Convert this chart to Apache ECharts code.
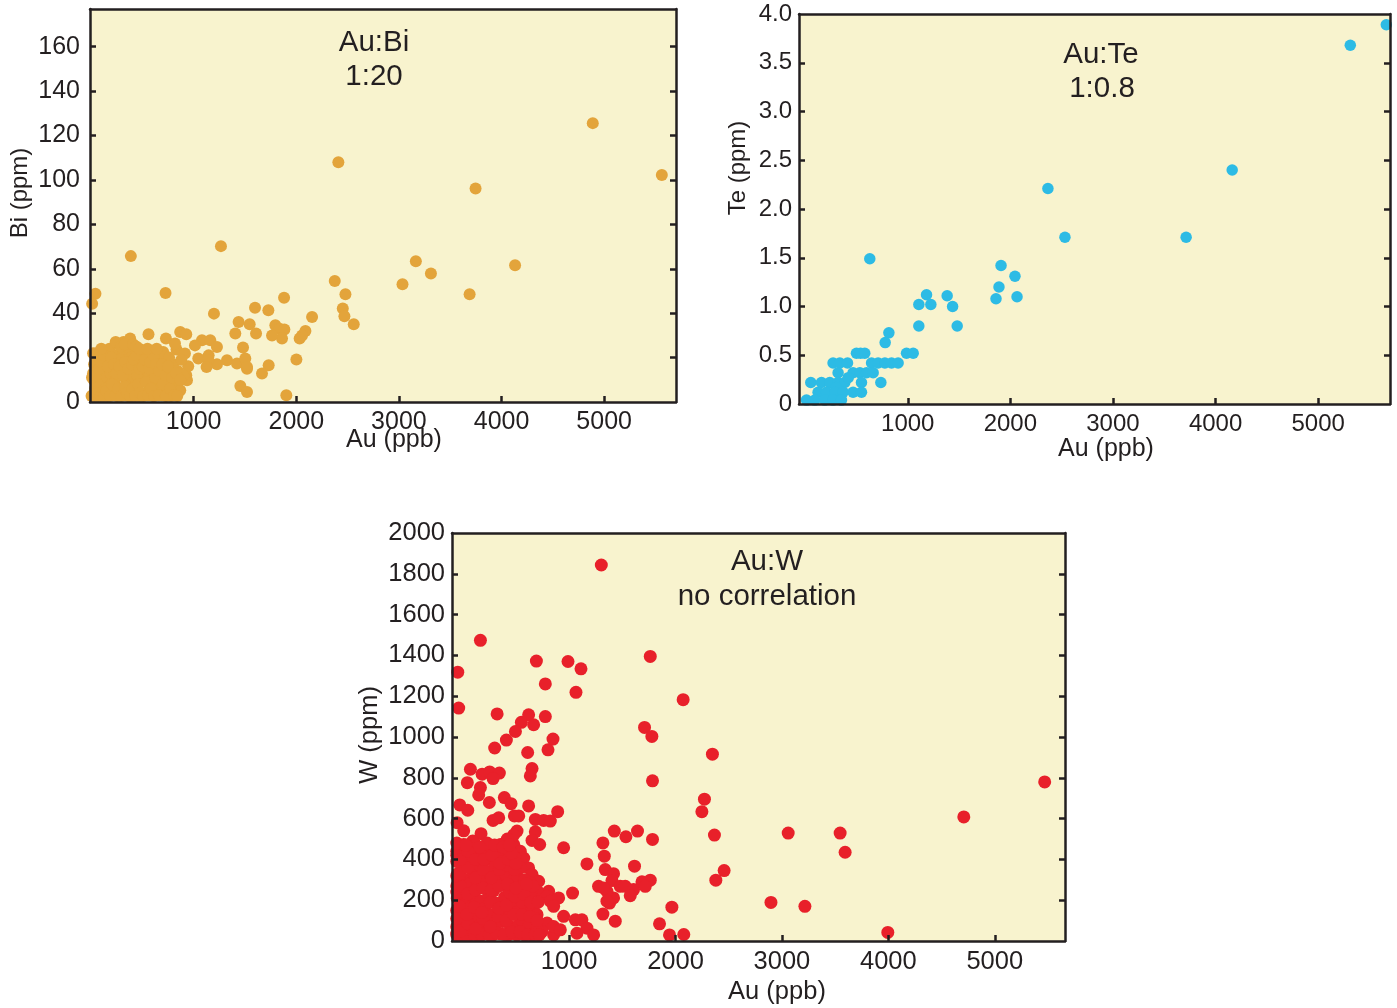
<!DOCTYPE html>
<html lang="en">
<head>
  <meta charset="UTF-8">
  <title>Au correlations</title>
  <script src="https://cdn.jsdelivr.net/npm/echarts@6/dist/echarts.min.js"></script>
  <style>
    html, body { margin: 0; padding: 0; background: #fff; }
    #main { width: 1397px; height: 1008px; }
  </style>
</head>
<body>
<div id="main"></div>
<script>
  // Au (ppb) vs Bi (ppm)
  var auBi = [
    [4889,125.6],[5562,102.2],[2410,108],[3747,96.2],[1266,70.2],[388,65.7],[3165,63.4],[3312,57.9],
    [4132,61.6],[3035,53],[2375,54.5],[2479,48.5],[3689,48.5],[2453,42.1],[2469,38.6],[2560,35],
    [726,49.1],[43,48.8],[11,44.3],[1198,39.8],[1598,42.5],[1728,41.3],[1881,46.9],[2154,38.3],
    [2089,32],[2056,30],[2033,28.6],[2001,19.1],[1731,16.5],[1666,12.8],[1455,7.2],[1520,4.5],
    [1903,3],[1325,18.8],[1422,17.3],[1520,15],[1227,17],[1146,21],[869,31.5],[928,30.5],
    [560,30.5],[730,28.6],[316,27],[381,28.6],[1081,27.8],[1162,27.8],[1227,24.8],[1438,36],
    [1546,35],[1608,30.8],[1406,30.8],[1796,34.6],[1838,33],[1884,32.6],[1861,28.6],[1764,30],
    [1481,24.5],[1503,19.6],[1520,15.8],[928,12],[935,9.8],[869,5.3],[765,4.5],[833,23.6],
    [818,26.3],[703,22.5],[622,21],[947,16.1],[1013,25.5],[915,21.8],[1045,19.6],[1142,18.8],
    [1126,15.8],[752,9],[671,12.8],[574,3],[118,20.3],[394,18.8],[492,18],
    [15,3],[25,10],[30,17],[40,6],[55,14],[70,2.7],[80,20],[90,9],[110,4],[120,15],[135,11],
    [150,19],[160,2.7],[175,7],[190,13],[200,17],[215,4],[230,9],[245,21],[255,2.7],[270,12],
    [285,6],[300,16],[315,23],[325,3],[340,10],[355,19],[370,7],[385,14],[395,2.7],[410,22],
    [425,11],[440,5],[455,16],[470,2.7],[485,9],[500,20],[515,13],[530,4],[545,17],[560,8],
    [575,12],[590,22],[605,2.7],[620,15],[640,6],[655,19],[670,10],[690,3],[705,14],[720,18],
    [740,7],[760,12],[780,2.7],[800,17],[820,9],[845,14],[860,5],[880,19],[900,12],[50,22],
    [180,24],[260,26],[350,25],[20,13],[65,8],[140,6],[210,14],[280,19],[360,2.7],[450,12],
    [520,23],[600,10],[680,22],[760,20],
    [5,2.7],[35,2.7],[60,4],[95,2.7],[125,2.7],[150,5],[185,2.7],[205,8],[240,3],[265,6],[295,2.7],
    [330,7],[350,4],[380,2.7],[405,6],[430,2.7],[460,8],[480,4],[510,2.7],[535,9],[555,3],[585,6],
    [615,2.7],[630,11],[660,3],[700,8],[730,2.7],[770,6],[810,3],[840,2.7],
    [10,11],[45,12],[75,15],[100,18],[130,21],[165,16],[195,20],[225,17],[250,13],[275,16],
    [310,12],[335,18],[365,15],[400,17],[420,19],[445,21],[475,15],[505,16],[525,19],[565,15],
    [580,18],[610,21],[635,17],[665,14],[695,17],[730,12],[750,16],[790,11],[830,13],[870,10],
    [240,27],[290,25],[330,26],[410,26],[440,25],[470,24],[550,24],[640,24],[100,24],[20,22]
  ];

  // Au (ppb) vs Te (ppm)
  var auTe = [
    [5664,3.89],[5313,3.68],[4162,2.40],[3713,1.71],[2366,2.21],[2532,1.71],[630,1.49],
    [1909,1.42],[2045,1.31],[1889,1.20],[1860,1.08],[2065,1.10],[1108,1.02],[1183,1.12],
    [1225,1.02],[1384,1.11],[1437,1.0],[1108,0.8],[1482,0.8],[816,0.73],[780,0.63],
    [500,0.52],[540,0.52],[581,0.52],[988,0.52],[1053,0.52],
    [272,0.42],[338,0.42],[413,0.42],[647,0.42],[711,0.42],[777,0.42],[842,0.42],[906,0.42],
    [321,0.32],[467,0.32],[533,0.32],[598,0.32],[663,0.32],
    [55,0.22],[159,0.22],[240,0.22],[321,0.22],[386,0.22],[549,0.22],[738,0.22],
    [300,0.17],[420,0.27],
    [126,0.12],[208,0.12],[289,0.12],[370,0.12],[467,0.12],[549,0.12],
    [13,0.04],[94,0.04],[191,0.04],[272,0.04],[354,0.04]
  ];

  // Au (ppb) vs W (ppm)
  var auW = [
    [1303,1843],[167,1474],[-46,1318],[-37,1142],[5469,780],[4709,608],[3547,529],[3594,435],
    [3059,529],[2897,189],[3216,170],[3995,42],[1763,1395],[2072,1183],[2347,916],[2272,695],
    [2248,634],[2366,519],[2457,345],[2379,298],[1709,1047],[1778,1003],[1784,785],[1784,498],
    [1425,539],[1534,511],[1643,539],[1318,481],[1331,416],[1340,350],[1418,330],[1615,367],
    [1403,296],[1481,268],[1528,268],[1606,252],[1685,290],[1763,298],[1716,268],[1575,222],
    [1418,211],[1381,186],[1318,132],[1434,97],[1966,166],[1850,84],[1944,30],[2078,32],
    [1277,268],[1356,244],[1356,195],[1325,260],
    [693,1372],[990,1370],[1112,1334],[777,1260],[1065,1219],[324,1113],[620,1109],[552,1072],
    [667,1060],[777,1100],[496,1027],[411,985],[301,946],[849,990],[802,937],[611,924],
    [652,845],[636,809],[73,842],[44,776],[183,818],[254,829],[345,823],[286,796],
    [167,752],[151,716],[-27,667],[48,641],[-52,580],[251,679],[392,703],[455,673],
    [620,662],[286,591],[339,604],[486,613],[527,613],[683,596],[761,591],[824,588],
    [893,634],[173,526],[511,539],[683,535],[652,493],[724,473],[949,457],[1168,378],[1033,235],
    [949,121],[1059,104],[1121,104],[1168,63],[1231,30],[1074,38],[855,30],[730,38],
    [355,473],[10,473],[120,473],[277,424],[480,473],[542,440],[574,407],[620,358],
    [652,326],[714,293],[808,244],[558,277],[636,284],[705,244],[793,219],[824,195],
    [902,211],[855,170],[511,195],[496,145],[605,154],[667,170],[699,129],[793,88],
    [855,71],[746,47],[683,63],[918,55],
    [-55,40],[-40,90],[-55,150],[-50,210],[-55,270],[-45,330],[-55,390],[-55,440],
    [0,30],[20,60],[-10,120],[30,180],[0,240],[25,300],[-5,360],[30,420],
    [70,30],[90,100],[60,160],[95,220],[65,280],[100,340],[75,400],[110,450],
    [140,30],[160,75],[130,135],[170,195],[140,255],[175,315],[150,375],[185,430],
    [210,40],[230,100],[205,160],[245,220],[215,280],[250,340],[225,400],[270,460],
    [285,30],[300,70],[280,130],[320,185],[290,245],[330,305],[300,365],[340,420],
    [355,35],[375,95],[350,155],[395,215],[365,275],[400,330],[380,390],[420,450],
    [430,30],[450,70],[425,125],[470,180],[440,240],[480,300],[455,360],[490,410],
    [510,30],[530,80],[505,140],[550,250],[520,310],[560,100],[580,30],[600,210],
    [620,70],[650,30],[590,160],[680,110],[640,240],[700,60],[560,190],[540,360],
    [480,520],[10,540],[420,500],[95,490],[230,480],
    [-55,30],[-30,32],[40,30],[110,32],[180,30],[250,30],[320,40],[390,32],[460,45],[540,45],
    [610,32],[680,32],[720,30],
    [-55,70],[-20,50],[50,85],[120,60],[190,110],[260,70],[335,120],[410,100],[480,130],
    [560,130],[630,120],[700,100],
    [-55,110],[-30,170],[40,130],[110,165],[180,140],[260,190],[340,160],[410,175],[490,220],
    [570,230],[640,190],[710,190],
    [-55,240],[-20,270],[45,230],[120,250],[190,260],[270,250],[340,270],[420,280],[500,260],
    [580,300],[660,270],
    [-55,320],[-25,330],[50,360],[120,310],[195,350],[270,310],[345,350],[420,370],[490,350],
    [600,280],
    [-55,420],[-20,400],[50,440],[120,400],[200,400],[275,420],[350,380],[430,400],[500,380],
    [460,430],
    [-55,480],[30,470],[160,460],[300,470],[380,460],[440,470]
  ];

  var auTicks = [1000, 2000, 3000, 4000, 5000];
  var biTicks = [0, 20, 40, 60, 80, 100, 120, 140, 160];
  var teTicks = [0, 0.5, 1.0, 1.5, 2.0, 2.5, 3.0, 3.5, 4.0];
  var wTicks = [0, 200, 400, 600, 800, 1000, 1200, 1400, 1600, 1800, 2000];

  var FONT = 'Liberation Sans, Arial, sans-serif';
  var INK = '#231f20';
  var PLOT_BG = '#f8f3ce';

  var grids = [
    {left: 90, top: 9, width: 586, height: 393},
    {left: 799, top: 14, width: 591, height: 390},
    {left: 452, top: 533, width: 613, height: 408}
  ];
  var xRange = [[-10, 5700], [-60, 5700], [-100, 5660]];
  var yRange = [[0, 177], [0, 4], [0, 2000]];
  var yLabels = [biTicks, teTicks, wTicks];
  var labelSize = [25, 24, 25.5];

  function bottomAxis(i) {
    return {
      type: 'value', gridIndex: i, position: 'bottom', z: 10,
      min: xRange[i][0], max: xRange[i][1],
      splitLine: {show: false},
      axisLine: {show: true, onZero: false, lineStyle: {color: INK, width: 2.5}},
      axisTick: {show: true, inside: true, length: 6, customValues: auTicks, lineStyle: {color: INK, width: 2.5}},
      axisLabel: {
        show: true, customValues: auTicks, margin: 8, color: INK, fontFamily: FONT, fontSize: labelSize[i],
        formatter: function (v) { return String(v); }
      }
    };
  }
  function topAxis(i) {
    return {
      type: 'value', gridIndex: i, position: 'top', z: 10,
      min: xRange[i][0], max: xRange[i][1],
      splitLine: {show: false},
      axisLine: {show: true, onZero: false, lineStyle: {color: INK, width: 2.5}},
      axisTick: {show: false}, axisLabel: {show: false}
    };
  }
  function leftAxis(i) {
    var ticks = yLabels[i].slice(1, -1);
    if (i === 0) ticks = yLabels[i].slice(1);
    return {
      type: 'value', gridIndex: i, position: 'left', z: 10,
      min: yRange[i][0], max: yRange[i][1],
      splitLine: {show: false},
      axisLine: {show: true, onZero: false, lineStyle: {color: INK, width: 2.5}},
      axisTick: {show: true, inside: true, length: 6, customValues: ticks, lineStyle: {color: INK, width: 2.5}},
      axisLabel: {
        show: true, customValues: yLabels[i], margin: i === 0 ? 10 : 7,
        color: INK, fontFamily: FONT, fontSize: labelSize[i],
        formatter: function (v) {
          if (i === 1) return v === 0 ? '0' : v.toFixed(1);
          return String(v);
        }
      }
    };
  }
  function rightAxis(i) {
    var ticks = yLabels[i].slice(1, -1);
    if (i === 0) ticks = yLabels[i].slice(1);
    return {
      type: 'value', gridIndex: i, position: 'right', z: 10,
      min: yRange[i][0], max: yRange[i][1],
      splitLine: {show: false},
      axisLine: {show: true, onZero: false, lineStyle: {color: INK, width: 2.5}},
      axisTick: {show: true, inside: true, length: 6, customValues: ticks, lineStyle: {color: INK, width: 2.5}},
      axisLabel: {show: false}
    };
  }

  function label(x, y, text, size, rot) {
    return {
      type: 'text', x: x, y: y, rotation: rot || 0, z: 20,
      style: {text: text, fill: INK, font: size + 'px ' + FONT, align: 'center', verticalAlign: 'middle'}
    };
  }

  var xAxes = [], yAxes = [];
  for (var i = 0; i < 3; i++) {
    xAxes.push(bottomAxis(i), topAxis(i));
    yAxes.push(leftAxis(i), rightAxis(i));
  }

  var myChart = echarts.init(document.getElementById('main'), null, {renderer: 'canvas'});
  var option = {
    animation: false,
    backgroundColor: '#ffffff',
    grid: grids.map(function (g) {
      return {left: g.left, top: g.top, width: g.width, height: g.height,
        show: true, backgroundColor: PLOT_BG, borderWidth: 0, containLabel: false};
    }),
    xAxis: xAxes,
    yAxis: yAxes,
    series: [
      {type: 'scatter', xAxisIndex: 0, yAxisIndex: 0, data: auBi, symbolSize: 12,
        itemStyle: {color: '#e3a43b', opacity: 1}},
      {type: 'scatter', xAxisIndex: 2, yAxisIndex: 2, data: auTe, symbolSize: 11.5,
        itemStyle: {color: '#2dbbe5', opacity: 1}},
      {type: 'scatter', xAxisIndex: 4, yAxisIndex: 4, data: auW, symbolSize: 13,
        itemStyle: {color: '#e8202a', opacity: 1}}
    ],
    graphic: [
      label(374, 43, 'Au:Bi', 29.5), label(374, 77, '1:20', 29.5),
      label(1101, 55, 'Au:Te', 29.5), label(1102, 89, '1:0.8', 29.5),
      label(767, 562, 'Au:W', 29.5), label(767, 597, 'no correlation', 29.5),
      label(394, 440, 'Au (ppb)', 25), label(1106, 449, 'Au (ppb)', 25), label(777, 992, 'Au (ppb)', 25.5),
      label(20, 193, 'Bi (ppm)', 24, Math.PI / 2),
      label(738, 168, 'Te (ppm)', 24, Math.PI / 2),
      label(370, 735, 'W (ppm)', 25.5, Math.PI / 2)
    ]
  };
  myChart.setOption(option, true);
  window.addEventListener('resize', function () {
    myChart.resize();
  });
</script>
</body>
</html>
